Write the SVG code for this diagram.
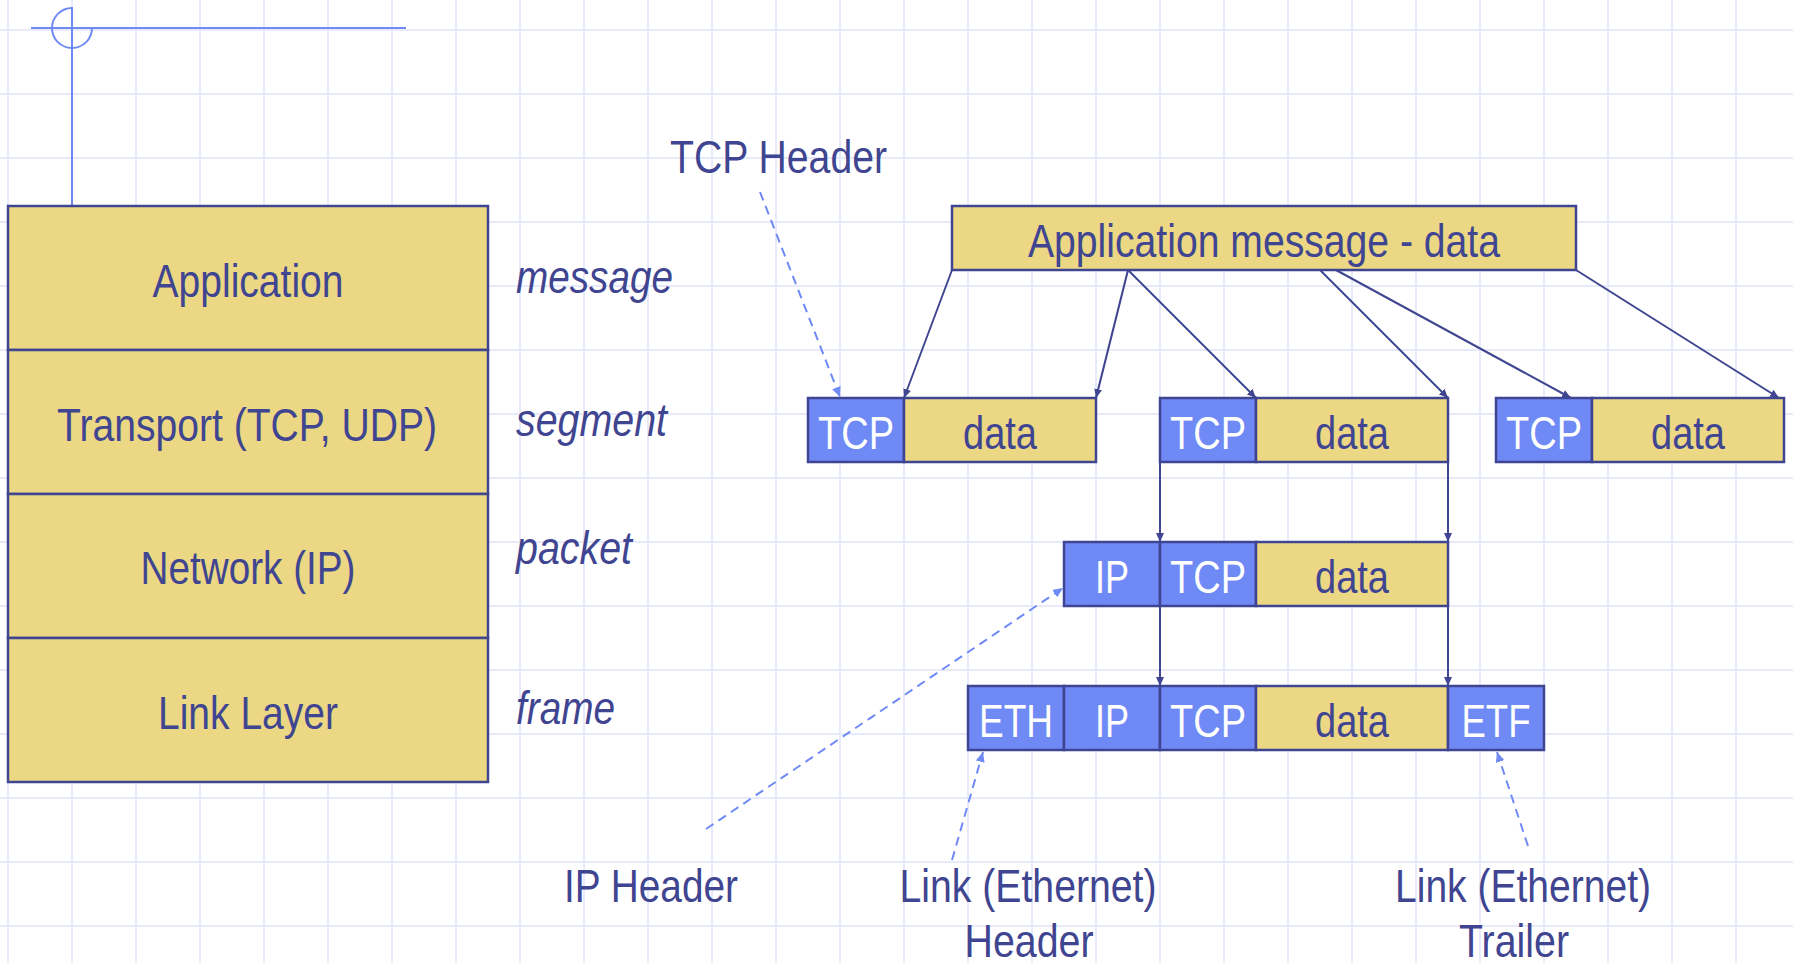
<svg xmlns="http://www.w3.org/2000/svg" width="1793" height="963" viewBox="0 0 1793 963">
<style>
.grid line{stroke:#e6eafa;stroke-width:2}
.box{stroke:#3f4590;stroke-width:2.5}
.y{fill:#ebd784}
.b{fill:#6f8af5}
text{font-family:"Liberation Sans Narrow","Liberation Sans",Arial,sans-serif;font-size:47px;text-anchor:middle}
.dk{fill:#3f4590}
.wt{fill:#ffffff}
.it{font-style:italic;text-anchor:start}
.st{text-anchor:start}
.conn line{stroke:#3f4590;stroke-width:2;marker-end:url(#ah)}
.dash line{stroke:#6f8af5;stroke-width:2;stroke-dasharray:9 6;marker-end:url(#ahb)}
</style>
<defs>
<marker id="ah" markerUnits="userSpaceOnUse" markerWidth="9" markerHeight="8" refX="9" refY="4" orient="auto"><path d="M0,0 L9,4 L0,8 z" fill="#3f4590"/></marker>
<marker id="ahb" markerUnits="userSpaceOnUse" markerWidth="10" markerHeight="9" refX="10" refY="4.5" orient="auto"><path d="M0,0 L10,4.5 L0,9 z" fill="#6f8af5"/></marker>
</defs>
<rect x="0" y="0" width="1793" height="963" fill="#ffffff"/>
<g class="grid">
<line x1="8" y1="0" x2="8" y2="963"/><line x1="72" y1="0" x2="72" y2="963"/><line x1="136" y1="0" x2="136" y2="963"/><line x1="200" y1="0" x2="200" y2="963"/><line x1="264" y1="0" x2="264" y2="963"/><line x1="328" y1="0" x2="328" y2="963"/><line x1="392" y1="0" x2="392" y2="963"/><line x1="456" y1="0" x2="456" y2="963"/><line x1="520" y1="0" x2="520" y2="963"/><line x1="584" y1="0" x2="584" y2="963"/><line x1="648" y1="0" x2="648" y2="963"/><line x1="712" y1="0" x2="712" y2="963"/><line x1="776" y1="0" x2="776" y2="963"/><line x1="840" y1="0" x2="840" y2="963"/><line x1="904" y1="0" x2="904" y2="963"/><line x1="968" y1="0" x2="968" y2="963"/><line x1="1032" y1="0" x2="1032" y2="963"/><line x1="1096" y1="0" x2="1096" y2="963"/><line x1="1160" y1="0" x2="1160" y2="963"/><line x1="1224" y1="0" x2="1224" y2="963"/><line x1="1288" y1="0" x2="1288" y2="963"/><line x1="1352" y1="0" x2="1352" y2="963"/><line x1="1416" y1="0" x2="1416" y2="963"/><line x1="1480" y1="0" x2="1480" y2="963"/><line x1="1544" y1="0" x2="1544" y2="963"/><line x1="1608" y1="0" x2="1608" y2="963"/><line x1="1672" y1="0" x2="1672" y2="963"/><line x1="1736" y1="0" x2="1736" y2="963"/>
<line x1="0" y1="30" x2="1793" y2="30"/><line x1="0" y1="94" x2="1793" y2="94"/><line x1="0" y1="158" x2="1793" y2="158"/><line x1="0" y1="222" x2="1793" y2="222"/><line x1="0" y1="286" x2="1793" y2="286"/><line x1="0" y1="350" x2="1793" y2="350"/><line x1="0" y1="414" x2="1793" y2="414"/><line x1="0" y1="478" x2="1793" y2="478"/><line x1="0" y1="542" x2="1793" y2="542"/><line x1="0" y1="606" x2="1793" y2="606"/><line x1="0" y1="670" x2="1793" y2="670"/><line x1="0" y1="734" x2="1793" y2="734"/><line x1="0" y1="798" x2="1793" y2="798"/><line x1="0" y1="862" x2="1793" y2="862"/><line x1="0" y1="926" x2="1793" y2="926"/>
</g>
<g id="corner-mark" fill="none" stroke="#6f8af5" stroke-width="2">
<line x1="31" y1="28" x2="406" y2="28"/>
<line x1="72" y1="7" x2="72" y2="206"/>
<path d="M72,8 A20,20 0 1,0 92,28"/>
</g>
<g id="layer-application"><rect class="box y" x="8" y="206" width="480" height="144"/><text class="dk" x="248" y="297" textLength="191" lengthAdjust="spacingAndGlyphs">Application</text></g>
<g id="layer-transport"><rect class="box y" x="8" y="350" width="480" height="144"/><text class="dk" x="247" y="441" textLength="380" lengthAdjust="spacingAndGlyphs">Transport (TCP, UDP)</text></g>
<g id="layer-network"><rect class="box y" x="8" y="494" width="480" height="144"/><text class="dk" x="248" y="584" textLength="215" lengthAdjust="spacingAndGlyphs">Network (IP)</text></g>
<g id="layer-link"><rect class="box y" x="8" y="638" width="480" height="144"/><text class="dk" x="248" y="729" textLength="180" lengthAdjust="spacingAndGlyphs">Link Layer</text></g>
<g id="pdu-labels">
<text class="dk it" x="516" y="293" textLength="157" lengthAdjust="spacingAndGlyphs">message</text>
<text class="dk it" x="516" y="436" textLength="151" lengthAdjust="spacingAndGlyphs">segment</text>
<text class="dk it" x="516" y="564" textLength="116" lengthAdjust="spacingAndGlyphs">packet</text>
<text class="dk it" x="516" y="724" textLength="99" lengthAdjust="spacingAndGlyphs">frame</text>
</g>
<g id="app-message"><rect class="box y" x="952" y="206" width="624" height="64"/><text class="dk" x="1264" y="257" textLength="472" lengthAdjust="spacingAndGlyphs">Application message - data</text></g>
<g id="segment-1"><rect class="box b" x="808" y="398" width="96" height="64"/><rect class="box y" x="904" y="398" width="192" height="64"/><text class="wt" x="856" y="449" textLength="76" lengthAdjust="spacingAndGlyphs">TCP</text><text class="dk" x="1000" y="449" textLength="74" lengthAdjust="spacingAndGlyphs">data</text></g>
<g id="segment-2"><rect class="box b" x="1160" y="398" width="96" height="64"/><rect class="box y" x="1256" y="398" width="192" height="64"/><text class="wt" x="1208" y="449" textLength="76" lengthAdjust="spacingAndGlyphs">TCP</text><text class="dk" x="1352" y="449" textLength="74" lengthAdjust="spacingAndGlyphs">data</text></g>
<g id="segment-3"><rect class="box b" x="1496" y="398" width="96" height="64"/><rect class="box y" x="1592" y="398" width="192" height="64"/><text class="wt" x="1544" y="449" textLength="76" lengthAdjust="spacingAndGlyphs">TCP</text><text class="dk" x="1688" y="449" textLength="74" lengthAdjust="spacingAndGlyphs">data</text></g>
<g id="packet"><rect class="box b" x="1064" y="542" width="96" height="64"/><rect class="box b" x="1160" y="542" width="96" height="64"/><rect class="box y" x="1256" y="542" width="192" height="64"/><text class="wt" x="1112" y="593" textLength="34" lengthAdjust="spacingAndGlyphs">IP</text><text class="wt" x="1208" y="593" textLength="76" lengthAdjust="spacingAndGlyphs">TCP</text><text class="dk" x="1352" y="593" textLength="74" lengthAdjust="spacingAndGlyphs">data</text></g>
<g id="frame"><rect class="box b" x="968" y="686" width="96" height="64"/><rect class="box b" x="1064" y="686" width="96" height="64"/><rect class="box b" x="1160" y="686" width="96" height="64"/><rect class="box y" x="1256" y="686" width="192" height="64"/><rect class="box b" x="1448" y="686" width="96" height="64"/><text class="wt" x="1016" y="737" textLength="74" lengthAdjust="spacingAndGlyphs">ETH</text><text class="wt" x="1112" y="737" textLength="34" lengthAdjust="spacingAndGlyphs">IP</text><text class="wt" x="1208" y="737" textLength="76" lengthAdjust="spacingAndGlyphs">TCP</text><text class="dk" x="1352" y="737" textLength="74" lengthAdjust="spacingAndGlyphs">data</text><text class="wt" x="1496" y="737" textLength="69" lengthAdjust="spacingAndGlyphs">ETF</text></g>
<g id="annotations">
<text class="dk st" x="670" y="173" textLength="217" lengthAdjust="spacingAndGlyphs">TCP Header</text>
<text class="dk" x="651" y="902" textLength="174" lengthAdjust="spacingAndGlyphs">IP Header</text>
<text class="dk" x="1028" y="902" textLength="257" lengthAdjust="spacingAndGlyphs">Link (Ethernet)</text>
<text class="dk" x="1029" y="957" textLength="129" lengthAdjust="spacingAndGlyphs">Header</text>
<text class="dk" x="1523" y="902" textLength="256" lengthAdjust="spacingAndGlyphs">Link (Ethernet)</text>
<text class="dk" x="1514" y="957" textLength="110" lengthAdjust="spacingAndGlyphs">Trailer</text>
</g>
<g id="connectors">
<g class="conn">
<line x1="952" y1="270" x2="904" y2="398"/>
<line x1="1128" y1="270" x2="1096" y2="398"/>
<line x1="1128" y1="270" x2="1256" y2="398"/>
<line x1="1320" y1="270" x2="1448" y2="398"/>
<line x1="1336" y1="270" x2="1571" y2="398"/>
<line x1="1576" y1="270" x2="1779" y2="398"/>
<line x1="1160" y1="462" x2="1160" y2="542"/>
<line x1="1448" y1="462" x2="1448" y2="542"/>
<line x1="1160" y1="606" x2="1160" y2="686"/>
<line x1="1448" y1="606" x2="1448" y2="686"/>
</g>
<g class="dash">
<line x1="760" y1="192" x2="840" y2="397"/>
<line x1="706" y1="829" x2="1063" y2="588"/>
<line x1="952" y1="860" x2="983" y2="752"/>
<line x1="1528" y1="846" x2="1497" y2="752"/>
</g>
</g>
</svg>
